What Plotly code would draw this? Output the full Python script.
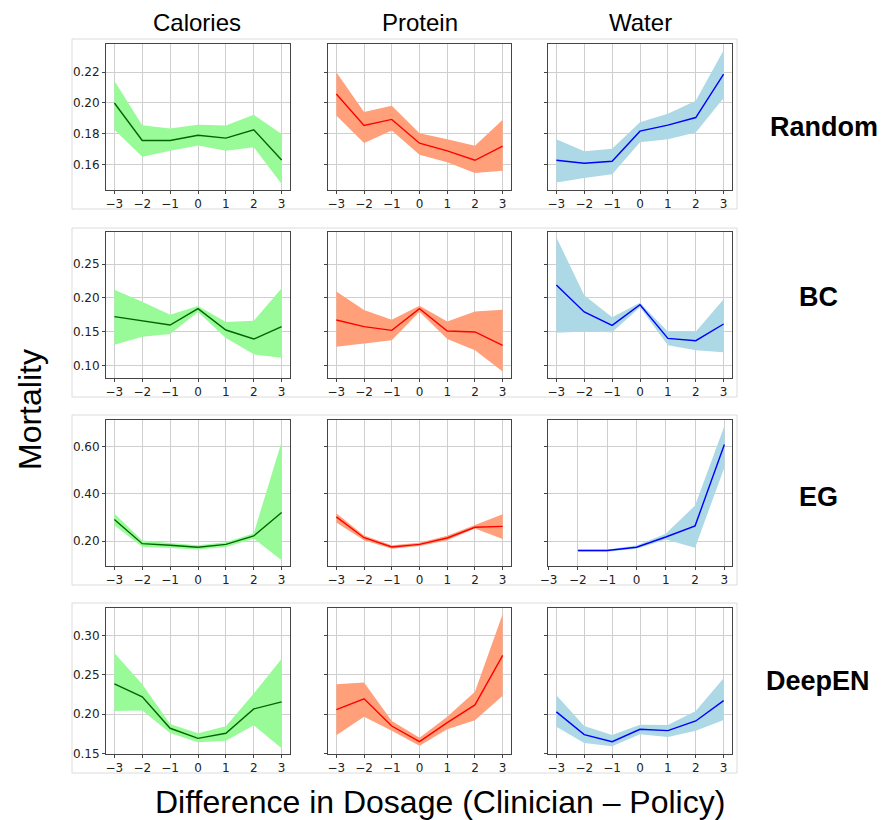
import plotly.graph_objects as go
from plotly.subplots import make_subplots

# ---------------- data ----------------
x_full = [-3, -2, -1, 0, 1, 2, 3]
x_eg_water = [-2, -1, 0, 1, 2, 3]
x_ticks = [-3, -2, -1, 0, 1, 2, 3]

columns = ["Calories", "Protein", "Water"]
rows = ["Random", "BC", "EG", "DeepEN"]

# Random
random_cal_mean = [0.200, 0.1758, 0.1758, 0.1792, 0.1773, 0.1827, 0.1632]
random_cal_hi = [0.2144, 0.1857, 0.1835, 0.1859, 0.1855, 0.1924, 0.1799]
random_cal_lo = [0.1827, 0.1652, 0.1691, 0.1725, 0.1691, 0.1714, 0.1477]
random_pro_mean = [0.2058, 0.1855, 0.1894, 0.1740, 0.1691, 0.1630, 0.1721]
random_pro_hi = [0.2198, 0.1941, 0.1982, 0.1805, 0.1766, 0.1723, 0.1891]
random_pro_lo = [0.1919, 0.1742, 0.1822, 0.1665, 0.1617, 0.1548, 0.1563]
random_wat_mean = [0.1630, 0.1611, 0.1624, 0.1818, 0.1857, 0.1906, 0.2187]
random_wat_hi = [0.1766, 0.1688, 0.1704, 0.1876, 0.1930, 0.2014, 0.2340]
random_wat_lo = [0.1486, 0.1516, 0.1540, 0.1747, 0.1766, 0.1809, 0.2032]

# BC
bc_cal_mean = [0.1721, 0.1661, 0.1597, 0.1839, 0.1523, 0.1390, 0.1573]
bc_cal_hi = [0.2120, 0.1943, 0.1750, 0.1878, 0.1642, 0.1661, 0.2140]
bc_cal_lo = [0.1306, 0.1425, 0.1464, 0.1790, 0.1405, 0.1163, 0.1114]
bc_pro_mean = [0.1671, 0.1573, 0.1518, 0.1839, 0.1508, 0.1494, 0.1296]
bc_pro_hi = [0.2095, 0.1819, 0.1676, 0.1883, 0.1651, 0.1799, 0.1824]
bc_pro_lo = [0.1277, 0.1326, 0.1370, 0.1795, 0.1390, 0.1222, 0.0911]
bc_wat_mean = [0.2189, 0.1790, 0.1592, 0.1898, 0.1400, 0.1365, 0.1612]
bc_wat_hi = [0.2895, 0.2036, 0.1711, 0.1928, 0.1499, 0.1499, 0.1977]
bc_wat_lo = [0.1484, 0.1503, 0.1489, 0.1859, 0.1296, 0.1222, 0.1193]

# EG
eg_cal_mean = [0.2915, 0.190, 0.183, 0.175, 0.187, 0.2225, 0.321]
eg_cal_hi = [0.317, 0.203, 0.193, 0.183, 0.196, 0.234, 0.620]
eg_cal_lo = [0.268, 0.177, 0.172, 0.165, 0.176, 0.211, 0.120]
eg_pro_mean = [0.303, 0.215, 0.176, 0.187, 0.214, 0.259, 0.263]
eg_pro_hi = [0.318, 0.224, 0.183, 0.194, 0.223, 0.268, 0.314]
eg_pro_lo = [0.279, 0.204, 0.169, 0.180, 0.204, 0.254, 0.210]
eg_wat_mean = [0.161, 0.161, 0.175, 0.218, 0.265, 0.608]
eg_wat_hi = [0.165, 0.165, 0.182, 0.232, 0.351, 0.686]
eg_wat_lo = [0.156, 0.156, 0.168, 0.207, 0.173, 0.511]

# DeepEN
deepen_cal_mean = [0.2384, 0.2218, 0.1819, 0.1691, 0.1755, 0.2065, 0.2154]
deepen_cal_hi = [0.2775, 0.2380, 0.1874, 0.1755, 0.1844, 0.2261, 0.2703]
deepen_cal_lo = [0.2040, 0.2044, 0.1759, 0.1640, 0.1661, 0.1857, 0.1564]
deepen_pro_mean = [0.2057, 0.2193, 0.1848, 0.1649, 0.1891, 0.2116, 0.2745]
deepen_pro_hi = [0.2380, 0.2401, 0.1912, 0.1700, 0.1967, 0.2282, 0.3272]
deepen_pro_lo = [0.1729, 0.1967, 0.1789, 0.1598, 0.1806, 0.1921, 0.2231]
deepen_wat_mean = [0.2027, 0.1738, 0.1649, 0.1806, 0.1789, 0.1912, 0.2171]
deepen_wat_hi = [0.2239, 0.1848, 0.1734, 0.1865, 0.1861, 0.2040, 0.2456]
deepen_wat_lo = [0.1840, 0.1632, 0.1589, 0.1742, 0.1708, 0.1789, 0.1925]

row_yticks = [
    [0.16, 0.18, 0.20, 0.22],
    [0.10, 0.15, 0.20, 0.25],
    [0.20, 0.40, 0.60],
    [0.15, 0.20, 0.25, 0.30],
]

# ---------------- styling ----------------
W, H = 881, 820
col_px = [(106, 290), (328, 511), (548, 732)]
row_px = [(44, 190), (232, 378), (420, 566), (608, 754)]
row_frames = [(39, 209), (228, 397), (415, 585), (603, 773)]
row_yrange = [[0.1438, 0.2381], [0.0813, 0.2974], [0.0958, 0.7113], [0.1492, 0.3348]]

fill_colors = ["#98FB98", "#FFA07A", "#ADD8E6"]
line_colors = ["#006400", "#FF0000", "#0000FF"]

panels = [
    [(x_full, random_cal_mean, random_cal_lo, random_cal_hi),
     (x_full, random_pro_mean, random_pro_lo, random_pro_hi),
     (x_full, random_wat_mean, random_wat_lo, random_wat_hi)],
    [(x_full, bc_cal_mean, bc_cal_lo, bc_cal_hi),
     (x_full, bc_pro_mean, bc_pro_lo, bc_pro_hi),
     (x_full, bc_wat_mean, bc_wat_lo, bc_wat_hi)],
    [(x_full, eg_cal_mean, eg_cal_lo, eg_cal_hi),
     (x_full, eg_pro_mean, eg_pro_lo, eg_pro_hi),
     (x_eg_water, eg_wat_mean, eg_wat_lo, eg_wat_hi)],
    [(x_full, deepen_cal_mean, deepen_cal_lo, deepen_cal_hi),
     (x_full, deepen_pro_mean, deepen_pro_lo, deepen_pro_hi),
     (x_full, deepen_wat_mean, deepen_wat_lo, deepen_wat_hi)],
]

fig = make_subplots(rows=4, cols=3)

tick_font = dict(family="DejaVu Sans", size=12, color="#222")

for r in range(4):
    for c in range(3):
        xs, mean, lo, hi = panels[r][c]
        fig.add_trace(go.Scatter(x=xs, y=lo, mode="lines", line=dict(width=0),
                                 showlegend=False, hoverinfo="skip"), row=r + 1, col=c + 1)
        fig.add_trace(go.Scatter(x=xs, y=hi, mode="lines", line=dict(width=0),
                                 fill="tonexty", fillcolor=fill_colors[c],
                                 showlegend=False, hoverinfo="skip"), row=r + 1, col=c + 1)
        fig.add_trace(go.Scatter(x=xs, y=mean, mode="lines",
                                 line=dict(color=line_colors[c], width=1.4),
                                 showlegend=False), row=r + 1, col=c + 1)
        idx = r * 3 + c + 1
        xname = "xaxis" if idx == 1 else f"xaxis{idx}"
        yname = "yaxis" if idx == 1 else f"yaxis{idx}"
        x0, x1 = col_px[c]
        y0, y1 = row_px[r]
        xr = [-3.3, 3.3]
        if r == 2 and c == 2:
            xr = [-3.02, 3.26]
        fig.layout[xname].update(
            domain=[x0 / W, x1 / W], range=xr, tickvals=x_ticks,
            ticks="outside", ticklen=3, tickcolor="#444",
            showline=True, mirror=True, linecolor="#444", linewidth=1,
            showgrid=True, gridcolor="#cfcfcf", gridwidth=1, zeroline=False,
            tickfont=tick_font, automargin=False,
        )
        fig.layout[yname].update(
            domain=[1 - y1 / H, 1 - y0 / H], range=row_yrange[r],
            tickvals=row_yticks[r], tickformat=".2f",
            showticklabels=(c == 0),
            ticks="outside", ticklen=3, tickcolor="#444",
            showline=True, mirror=True, linecolor="#444", linewidth=1,
            showgrid=True, gridcolor="#cfcfcf", gridwidth=1, zeroline=False,
            tickfont=tick_font, automargin=False,
        )

# row frames
shapes = []
for (fy0, fy1) in row_frames:
    shapes.append(dict(type="rect", xref="paper", yref="paper",
                       x0=72 / W, x1=737 / W, y0=1 - fy1 / H, y1=1 - fy0 / H,
                       line=dict(color="#dcdcdc", width=1), fillcolor="rgba(0,0,0,0)"))

annotations = []
title_font = dict(family="Liberation Sans, Arial", size=24, color="#000")
col_centers = [197, 420, 640]
for name, cx in zip(columns, col_centers):
    annotations.append(dict(text=name, x=cx / W, y=1 - 22 / H, xref="paper", yref="paper",
                            showarrow=False, font=title_font, xanchor="center", yanchor="middle"))

row_label_pos = [(824, 127), (818, 297), (818, 497), (818, 681)]
for name, (lx, ly) in zip(rows, row_label_pos):
    annotations.append(dict(text=f"<b>{name}</b>", x=lx / W, y=1 - ly / H, xref="paper", yref="paper",
                            showarrow=False, font=dict(family="Liberation Sans, Arial", size=27, color="#000"),
                            xanchor="center", yanchor="middle"))

annotations.append(dict(text="Mortality", x=30 / W, y=1 - 410 / H, xref="paper", yref="paper",
                        showarrow=False, textangle=-90,
                        font=dict(family="Liberation Sans, Arial", size=32, color="#000"),
                        xanchor="center", yanchor="middle"))
annotations.append(dict(text="Difference in Dosage (Clinician – Policy)", x=440 / W, y=1 - 802 / H,
                        xref="paper", yref="paper", showarrow=False,
                        font=dict(family="Liberation Sans, Arial", size=32, color="#000"),
                        xanchor="center", yanchor="middle"))

fig.update_layout(
    width=W, height=H, margin=dict(l=0, r=0, t=0, b=0, autoexpand=False),
    paper_bgcolor="white", plot_bgcolor="white",
    showlegend=False, shapes=shapes, annotations=annotations,
)

fig.write_html("out.html", config={"displayModeBar": False},
               post_script="document.body.style.margin='0';document.body.style.overflow='hidden';")
